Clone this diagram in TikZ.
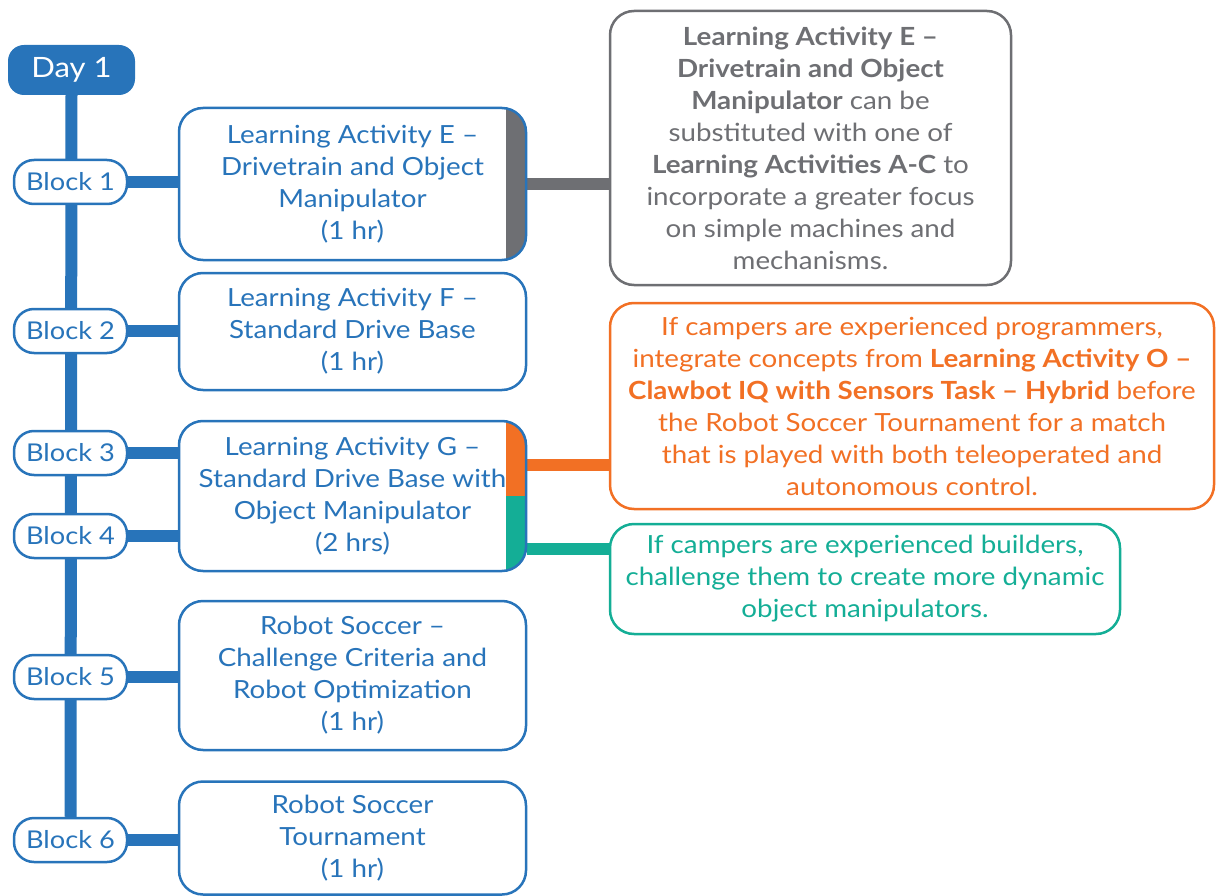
\documentclass[tikz,border=0pt]{standalone}
\usepackage{fontspec}
\setmainfont{Lato}[FakeStretch=1.11]
\usetikzlibrary{backgrounds,calc}
\definecolor{vblue}{RGB}{40,116,186}
\definecolor{vgray}{RGB}{110,111,115}
\definecolor{vorange}{RGB}{242,112,36}
\definecolor{vteal}{RGB}{20,174,150}
\begin{document}
\begin{tikzpicture}[x=1pt,y=-1pt,
  box/.style={draw=vblue, line width=2.5pt, rounded corners=24pt, fill=white, text=vblue, align=center, font=\fontsize{25}{32}\selectfont, inner sep=0pt, minimum width=347pt},
  blk/.style={draw=vblue, line width=2.5pt, rounded corners=20pt, fill=white, text=vblue, font=\fontsize{24.5}{30}\selectfont, minimum width=113pt, minimum height=44pt, inner sep=0pt},
  daybox/.style={fill=vblue, rounded corners=16pt, text=white, font=\fontsize{28}{32}\selectfont, minimum width=127pt, minimum height=50pt, inner sep=0pt},
  note/.style={draw=#1, text=#1, line width=2.5pt, rounded corners=24pt, fill=white, align=center, font=\fontsize{25}{32}\selectfont, inner sep=0pt},
  bar/.style={line width=12pt, draw=#1},
  sidebar/.style={path picture={\fill[#1, sharp corners] ([xshift=-20pt]path picture bounding box.north east) rectangle (path picture bounding box.south east);}}
]
\useasboundingbox (0,0) rectangle (1218,896);

% day and blocks
\node[daybox] (day) at (71.5,70) {Day 1};
\node[blk] (b1) at (70.5,182) {Block 1};
\node[blk] (b2) at (70.5,331) {Block 2};
\node[blk] (b3) at (70.5,453) {Block 3};
\node[blk] (b4) at (70.5,536) {Block 4};
\node[blk] (b5) at (70.5,677) {Block 5};
\node[blk] (b6) at (70.5,840) {Block 6};

% activity boxes
\node[box, minimum height=152pt, sidebar=vgray] (bE) at (352.5,184) {Learning Activity E --\\Drivetrain and Object\\Manipulator\\(1 hr)};
\node[box, minimum height=117pt] (bF) at (352.5,331.5) {Learning Activity F --\\Standard Drive Base\\(1 hr)};
\node[box, minimum height=150pt, path picture={
   \fill[vorange, sharp corners] ([xshift=-20pt]path picture bounding box.north east) rectangle (path picture bounding box.east);
   \fill[vteal, sharp corners] ([xshift=-20pt]path picture bounding box.east) rectangle (path picture bounding box.south east);}] (bG) at (352.5,496) {Learning Activity G --\\Standard Drive Base with\\Object Manipulator\\(2 hrs)};
\node[box, minimum height=149pt] (bR1) at (352.5,675.5) {Robot Soccer --\\Challenge Criteria and\\Robot Optimization\\(1 hr)};
\node[box, minimum height=113pt] (bR2) at (352.5,838) {Robot Soccer\\Tournament\\(1 hr)};

% notes
\node[note=vgray, minimum width=401pt, minimum height=274pt] (ng) at (810.5,148) {\textbf{Learning Activity E --}\\\textbf{Drivetrain and Object}\\\textbf{Manipulator} can be\\substituted with one of\\\textbf{Learning Activities A-C} to\\incorporate a greater focus\\on simple machines and\\mechanisms.};
\node[note=vorange, minimum width=604pt, minimum height=206pt] (no) at (912,406) {If campers are experienced programmers,\\integrate concepts from \textbf{Learning Activity O --}\\\textbf{Clawbot IQ with Sensors Task -- Hybrid} before\\the Robot Soccer Tournament for a match\\that is played with both teleoperated and\\autonomous control.};
\node[note=vteal, minimum width=510pt, minimum height=110pt] (nt) at (865,579) {If campers are experienced builders,\\challenge them to create more dynamic\\object manipulators.};

\coordinate (os) at ($(bG.east)+(0,-31)$);
\coordinate (ts) at ($(bG.east)+(0,53)$);

\begin{pgfonlayer}{background}
  \draw[bar=vblue] (day.south) -- (b6.north);
  \draw[bar=vblue] (b1.east) -- (b1.east -| bE.west);
  \draw[bar=vblue] (b2.east) -- (b2.east -| bF.west);
  \draw[bar=vblue] (b3.east) -- (b3.east -| bG.west);
  \draw[bar=vblue] (b4.east) -- (b4.east -| bG.west);
  \draw[bar=vblue] (b5.east) -- (b5.east -| bR1.west);
  \draw[bar=vblue] (b6.east) -- (b6.east -| bR2.west);
  \draw[bar=vgray] (bE.east) -- (bE.east -| ng.west);
  \draw[bar=vorange] (os) -- (os -| no.west);
  \draw[bar=vteal] (ts) -- (ts -| nt.west);
\end{pgfonlayer}
\end{tikzpicture}
\end{document}
